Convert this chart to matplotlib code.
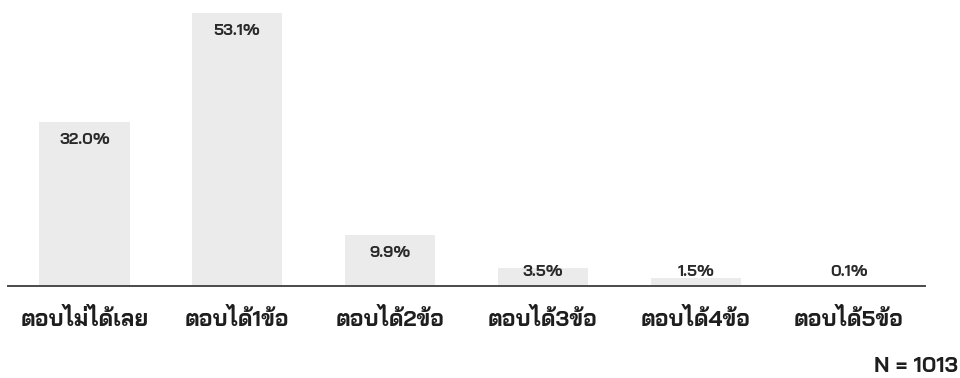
import matplotlib
matplotlib.use("Agg")
import matplotlib.pyplot as plt

# ข้อมูล
categories = ["ตอบไม่ได้เลย", "ตอบได้1ข้อ", "ตอบได้2ข้อ", "ตอบได้3ข้อ", "ตอบได้4ข้อ", "ตอบได้5ข้อ"]
values = [32.0, 53.1, 9.9, 3.5, 1.5, 0.1]
value_labels = ["32.0%", "53.1%", "9.9%", "3.5%", "1.5%", "0.1%"]
n_text = "N = 1013"

plt.rcParams["font.family"] = ["Bai Jamjuree", "DejaVu Sans"]

fig = plt.figure(figsize=(9.6, 3.78), dpi=100)
ax = fig.add_axes([8 / 960, 92 / 378, 917 / 960, 282.7 / 378])

x = range(len(values))
ax.bar(x, values, width=0.59, color="#ebebeb")
for i, v in enumerate(values):
    ax.text(i, max(v - 3.5, 2.7), value_labels[i], ha="center", va="center",
            fontsize=11.5, fontweight="bold", color="#2a2a2a")

ax.set_xlim(-0.5, 5.5)
ax.set_ylim(0, 55)
ax.set_yticks([])
ax.set_xticks(list(x))
ax.set_xticklabels(categories, fontsize=16, fontweight="bold", color="#1e1e1e")
ax.tick_params(axis="x", length=0, pad=16)
for s in ["top", "left", "right"]:
    ax.spines[s].set_visible(False)
ax.spines["bottom"].set_color("#4a4a4a")
ax.spines["bottom"].set_linewidth(1.4)

fig.text(958 / 960, 12 / 378, n_text, ha="right", va="center",
         fontsize=15.5, fontweight="bold", color="#1e1e1e")

fig.savefig("out.png", dpi=100)
